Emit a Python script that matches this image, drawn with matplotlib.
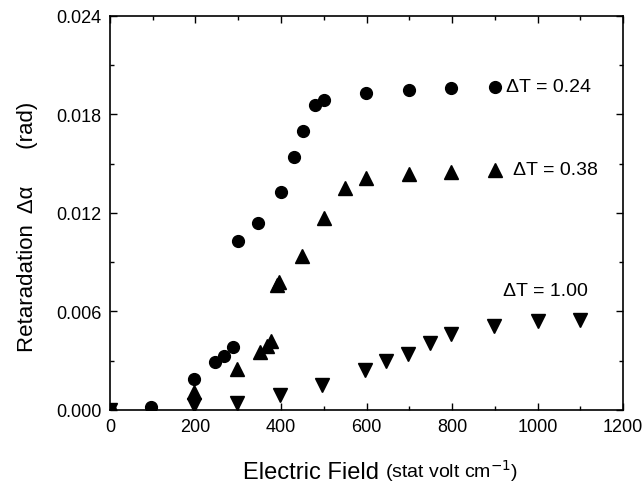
import numpy as np
import matplotlib
matplotlib.use("Agg")
import matplotlib.pyplot as plt
from matplotlib.ticker import MultipleLocator, FormatStrFormatter

plt.rcParams['font.family'] = ['Liberation Sans', 'DejaVu Sans']

# dT = 0.24 (circles)
field_024 = [0, 96, 196, 246, 267, 287, 299, 347, 400, 430, 452, 480, 500, 599, 700, 798, 900]
ret_024 = [0.0, 0.0002, 0.0019, 0.0029, 0.0033, 0.0038, 0.0103, 0.0114, 0.0133,
           0.0154, 0.0170, 0.0186, 0.0189, 0.0193, 0.0195, 0.0196, 0.0197]

# dT = 0.38 (up triangles)
field_038 = [196, 298, 351, 368, 376, 390, 396, 450, 500, 550, 599, 700, 797, 900]
ret_038 = [0.0011, 0.0025, 0.0035, 0.0039, 0.0042, 0.0076, 0.0078, 0.0094,
           0.0117, 0.0135, 0.0141, 0.0144, 0.0145, 0.0146]

# dT = 1.00 (down triangles)
field_100 = [0, 196, 298, 398, 496, 597, 645, 697, 748, 798, 899, 1000, 1100]
ret_100 = [0.0, 0.0003, 0.0004, 0.0009, 0.0015, 0.0024, 0.0030, 0.0034,
           0.0041, 0.0046, 0.0051, 0.0054, 0.0055]

fig = plt.figure(figsize=(6.43, 4.85), dpi=100)
ax = fig.add_axes([0.171, 0.153, 0.798, 0.812])

ax.plot(field_024, ret_024, 'o', color='black', markersize=8.5)
ax.plot(field_038, ret_038, '^', color='black', markersize=10)
ax.plot(field_100, ret_100, 'v', color='black', markersize=10)

# series labels
ax.text(926, 0.0197, 'ΔT = 0.24', fontsize=14, va='center', ha='left')
ax.text(943, 0.01462, 'ΔT = 0.38', fontsize=14, va='center', ha='left')
ax.text(1018, 0.00725, 'ΔT = 1.00', fontsize=14, va='center', ha='center')

ax.set_xlim(0, 1200)
ax.set_ylim(0, 0.024)
ax.xaxis.set_major_locator(MultipleLocator(200))
ax.xaxis.set_minor_locator(MultipleLocator(100))
ax.yaxis.set_major_locator(MultipleLocator(0.006))
ax.yaxis.set_minor_locator(MultipleLocator(0.003))
ax.yaxis.set_major_formatter(FormatStrFormatter('%.3f'))

ax.tick_params(which='both', direction='in', top=True, right=True, labelsize=13)
ax.tick_params(which='major', length=5, width=1)
ax.tick_params(which='minor', length=3, width=1)
ax.tick_params(axis='y', pad=6)
ax.tick_params(axis='x', pad=6)
for sp in ax.spines.values():
    sp.set_linewidth(1.2)

ax.set_ylabel('Retaradation  Δα      (rad)', fontsize=16)
ax.yaxis.set_label_coords(-(110 - 38) / (0.798 * 643), 0.467)

# x label: main text plus smaller units
t1 = fig.text(243 / 643, 0.002, 'Electric Field', fontsize=17, ha='left', va='bottom')
ax.annotate('(stat volt cm$^{-1}$)', xy=(1, 0), xycoords=t1,
            xytext=(4, 0), textcoords='offset points',
            fontsize=14, ha='left', va='bottom', annotation_clip=False)

fig.savefig('out.png', dpi=100)
